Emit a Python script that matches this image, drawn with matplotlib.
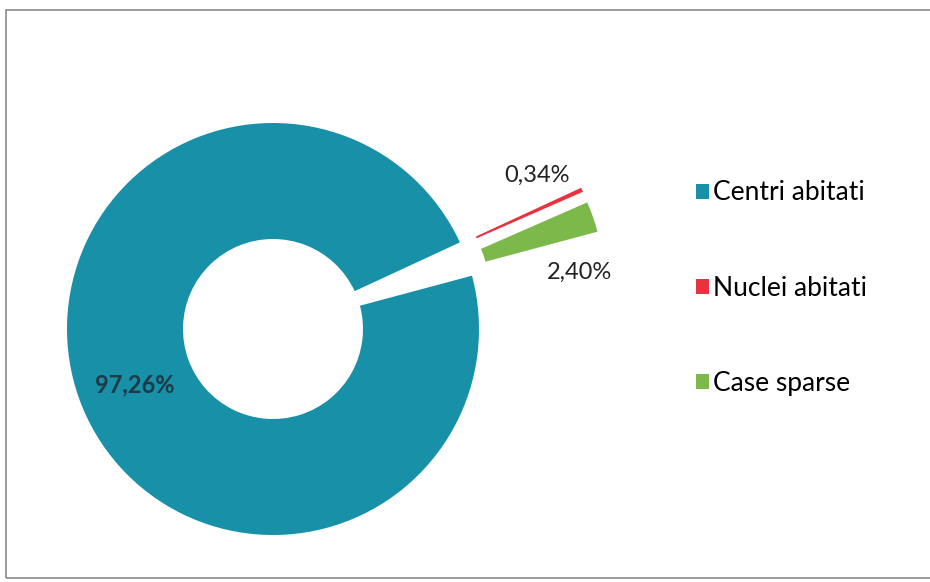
import matplotlib.pyplot as plt
from matplotlib.patches import Rectangle

# data
categories = ['Centri abitati', 'Nuclei abitati', 'Case sparse']
shares = [97.26, 0.34, 2.40]
colors = ['#1790a8', '#e8323e', '#7cb84a']

plt.rcParams['font.family'] = ['Lato', 'DejaVu Sans']

fig = plt.figure(figsize=(9.3, 5.82), dpi=100)
ax = fig.add_axes([0, 0, 1, 1])

# donut, the two small slices pulled out
wedges, _ = ax.pie(shares, radius=206, center=(273, 253), startangle=15,
                   counterclock=False, explode=[0, 133, 133], colors=colors,
                   wedgeprops=dict(width=116, linewidth=0), frame=True)
ax.set_xlim(0, 930)
ax.set_ylim(0, 582)
ax.axis('off')

def fmt(v):
    return f'{v:.2f}'.replace('.', ',') + '%'

ax.text(135, 582 - 385, fmt(shares[0]), fontsize=17, fontweight='bold',
        color='#1d3a45', ha='center', va='center')
ax.text(537, 582 - 175, fmt(shares[1]), fontsize=17, color='#222222',
        ha='center', va='center')
ax.text(580, 582 - 272, fmt(shares[2]), fontsize=17, color='#222222',
        ha='center', va='center')

ax.legend(wedges, categories, loc='upper left', bbox_to_anchor=(0.748, 0.69),
          frameon=False, fontsize=19, handlelength=0.5, handleheight=0.5,
          handletextpad=0.15, labelspacing=2.66, borderaxespad=0,
          borderpad=0)

# outer frame
fig.patches.append(Rectangle((6 / 930, 4 / 582), 1.0, 568 / 582,
                             transform=fig.transFigure, fill=False,
                             edgecolor='#8a8a8a', linewidth=1.2))

plt.savefig('out.png', dpi=100)
